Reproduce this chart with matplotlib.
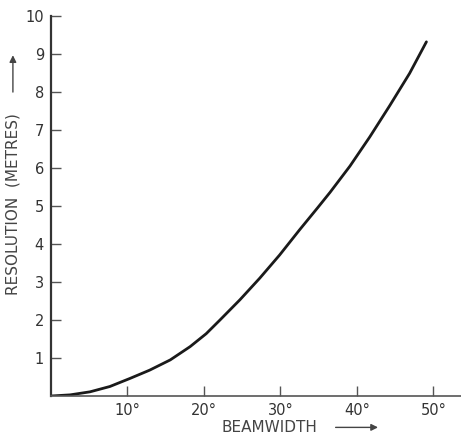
import numpy as np
import matplotlib.pyplot as plt

# values
beamwidth = [0, 2.5, 5.1, 7.7, 10.3, 12.9, 15.6, 18.2, 20.3, 22.1, 24.7, 27.3,
             29.9, 32.5, 34.9, 36.5, 39.1, 41.7, 44.3, 46.9, 49.1]
resolution = [0, 0.03, 0.11, 0.25, 0.46, 0.68, 0.95, 1.3, 1.64, 2.0, 2.53, 3.1,
              3.71, 4.37, 4.96, 5.36, 6.05, 6.82, 7.64, 8.49, 9.32]

x_ticks = [10, 20, 30, 40, 50]
x_labels = ['10°', '20°', '30°', '40°', '50°']
y_ticks = [1, 2, 3, 4, 5, 6, 7, 8, 9, 10]

fig = plt.figure(figsize=(4.61, 4.37), dpi=100)
ax = fig.add_axes([0.1106, 0.0938, 0.889, 0.8696])

ax.plot(beamwidth, resolution, color='#1a1a1a', lw=2.0, solid_capstyle='round',
        solid_joinstyle='round')

ax.set_xlim(0, 53.6)
ax.set_ylim(0, 10)
ax.spines['top'].set_visible(False)
ax.spines['right'].set_visible(False)
ax.spines['left'].set_color('#333333')
ax.spines['left'].set_linewidth(1.6)
ax.spines['bottom'].set_color('#555555')
ax.spines['bottom'].set_linewidth(1.2)

ax.set_xticks(x_ticks)
ax.set_xticklabels(x_labels)
ax.set_yticks(y_ticks)
ax.tick_params(axis='both', direction='in', length=7, width=1.0,
               colors='#555555', labelcolor='#333333', labelsize=10.5)
ax.tick_params(axis='y', pad=5)
ax.tick_params(axis='x', pad=5)

# axis titles with arrows
fig.text(0.028, 0.533, 'RESOLUTION  (METRES)', rotation=90, ha='center', va='center',
         fontsize=11, color='#444444')
ax.annotate('', xy=(0.028, 0.88), xytext=(0.028, 0.783), xycoords='figure fraction',
            textcoords='figure fraction', annotation_clip=False,
            arrowprops=dict(arrowstyle='-|>', color='#444444', lw=1.0, mutation_scale=10))
fig.text(0.585, 0.022, 'BEAMWIDTH', ha='center', va='center', fontsize=11, color='#444444')
ax.annotate('', xy=(0.826, 0.022), xytext=(0.722, 0.022), xycoords='figure fraction',
            textcoords='figure fraction', annotation_clip=False,
            arrowprops=dict(arrowstyle='-|>', color='#444444', lw=1.0, mutation_scale=10))

fig.savefig('out.png', dpi=100)
